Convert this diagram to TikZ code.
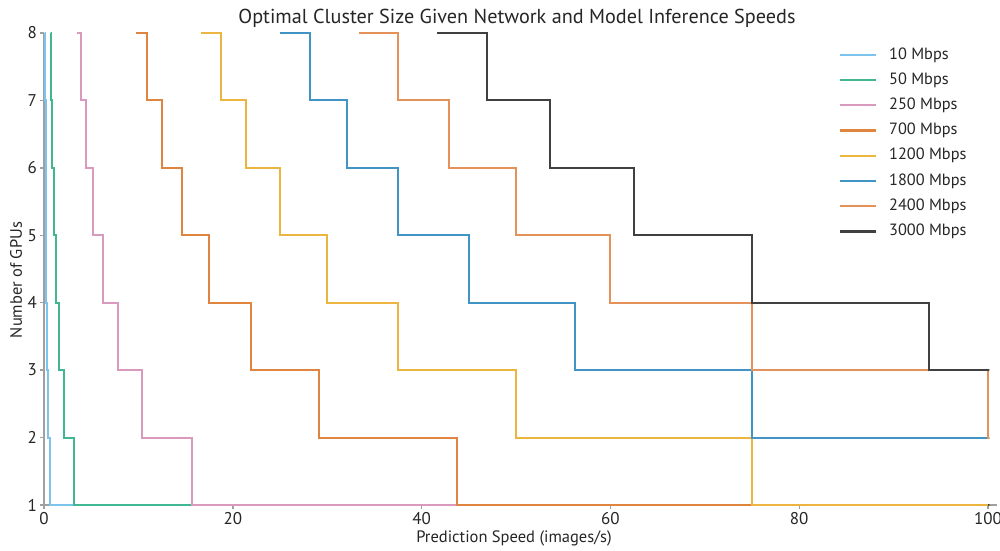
\documentclass[tikz,border=0pt]{standalone}
\usepackage{fontspec}
\setmainfont{PT Sans}
\definecolor{c10}{HTML}{7CC4EE}
\definecolor{c50}{HTML}{40B692}
\definecolor{c250}{HTML}{D99ABD}
\definecolor{c700}{HTML}{E08540}
\definecolor{c1200}{HTML}{ECB540}
\definecolor{c1800}{HTML}{4095C5}
\definecolor{c2400}{HTML}{E5915A}
\definecolor{c3000}{HTML}{404040}
\definecolor{spine}{HTML}{A0A0A0}
\definecolor{txt}{HTML}{262626}
\newcommand\stepcurve[2]{\draw[curve,#2] ({#1/9},8) foreach \n in {8,7,...,2} { -- ({#1/\n},\n) -- ({#1/\n},{\n-1}) } -- (100,1);}
\begin{document}
\begin{tikzpicture}[x=1pt,y=1pt,
  curve/.style={line width=2pt, line join=miter},
  legline/.style={line width=2.2pt},
  ticklab/.style={font=\fontsize{17}{17}\selectfont, text=txt, inner sep=0pt},
  axlab/.style={font=\fontsize{16.5}{16.5}\selectfont, text=txt, inner sep=0pt},
  legtext/.style={font=\fontsize{16.3}{16.3}\selectfont, text=txt, anchor=west, inner sep=0pt},
  spinestyle/.style={draw=spine, line width=1.8pt},
  tickstyle/.style={draw=spine, line width=1.4pt}]
\useasboundingbox (0,0) rectangle (1000,550);
\fill[white] (0,0) rectangle (1000,550);
\node[font=\fontsize{20.2}{20.2}\selectfont, text=txt, inner sep=0pt] (title) at (517,532) {Optimal Cluster Size Given Network and Model Inference Speeds};
\node[axlab] (xlabel) at (514,12) {Prediction Speed (images/s)};
\node[axlab, rotate=90] (ylabel) at (16,270) {Number of GPUs};
\begin{scope}[shift={(44pt,-22.43pt)}, x=9.44pt, y=67.43pt]
  \draw[spinestyle] (0,8) -- (0,1) -- (101.0,1);
  \foreach \n in {1,...,8} {
    \draw[tickstyle] (0,\n) -- ++(-4pt,0);
    \node[ticklab, anchor=east] (yt\n) at ([xshift=-7pt]0,\n) {\n};
  }
  \foreach \v in {0,20,40,60,80,100} {
    \draw[tickstyle] (\v,1) -- ++(0,-4pt);
    \node[ticklab, anchor=north] (xt\v) at ([yshift=-7pt]\v,1) {\v};
  }
  \begin{scope}
    \clip (-1,0.9) rectangle (100.15,8.1);
    \stepcurve{1.25}{c10}
    \stepcurve{6.25}{c50}
    \stepcurve{31.25}{c250}
    \stepcurve{87.5}{c700}
    \stepcurve{150}{c1200}
    \stepcurve{225}{c1800}
    \stepcurve{300}{c2400}
    \stepcurve{375}{c3000}
  \end{scope}
\end{scope}
\foreach \lab/\col [count=\i from 0] in {10 Mbps/c10, 50 Mbps/c50, 250 Mbps/c250, 700 Mbps/c700, 1200 Mbps/c1200, 1800 Mbps/c1800, 2400 Mbps/c2400, 3000 Mbps/c3000} {
  \coordinate (la\i) at (840,{495-25.2*\i});
  \coordinate (lb\i) at (876,{495-25.2*\i});
  \draw[legline, \col] (la\i) -- (lb\i);
  \node[legtext] (lt\i) at (889,{495-25.2*\i}) {\lab};
}
\end{tikzpicture}
\end{document}
